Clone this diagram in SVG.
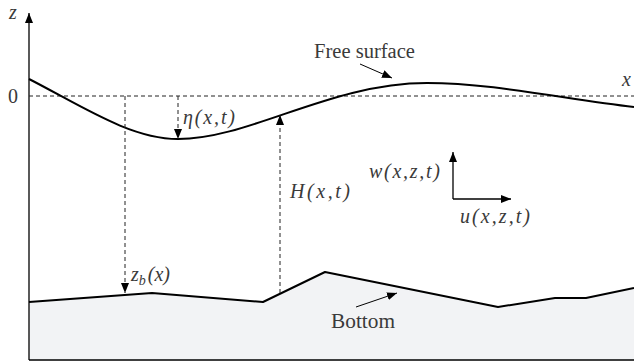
<svg xmlns="http://www.w3.org/2000/svg" width="634" height="362" viewBox="0 0 634 362">
<style>
.t{font-family:"Liberation Serif","DejaVu Serif","Noto Serif",serif;font-size:20px;fill:#3a3a3a}
.m{font-style:italic}
.ax{stroke:#000;stroke-width:1.3;fill:none}
.dash{stroke:#222;stroke-width:1;stroke-dasharray:4 3;fill:none}
.thick{stroke:#000;stroke-width:2;fill:none;stroke-linejoin:round}
.thin{stroke:#000;stroke-width:1;fill:none}
</style>
<defs>
<marker id="ah" viewBox="0 0 10 8" refX="10" refY="4" markerWidth="10" markerHeight="8" markerUnits="userSpaceOnUse" orient="auto">
<path d="M0,0 L10,4 L0,8 Z" fill="#000"/>
</marker>
</defs>
<g id="bottom-fill">
<path d="M29,302 L152,293 L263,302 L325,272 L498,307 L555,298 L586,298 L634,288 L634,360 L29,360 Z" fill="#f2f3f5"/>
</g>
<g id="axes">
<line class="ax" x1="29" y1="360" x2="29" y2="13" marker-end="url(#ah)"/>
<line class="ax" x1="29" y1="360" x2="634" y2="360"/>
<line class="dash" x1="29" y1="96" x2="634" y2="96"/>
<text class="t m" x="9" y="19">z</text>
<text class="t" x="8" y="103">0</text>
<text class="t m" x="622" y="86">x</text>
</g>
<g id="free-surface">
<path class="thick" d="M29,79 C80,105 130,139 178,139 C250,139 330,83 427,83 C490,83 560,98 634,107"/>
<text class="t" x="314" y="58" textLength="101" lengthAdjust="spacingAndGlyphs">Free surface</text>
</g>
<g id="bottom">
<path class="thick" d="M29,302 L152,293 L263,302 L325,272 L498,307 L555,298 L586,298 L634,288"/>
<text class="t" x="331" y="328" textLength="64" lengthAdjust="spacingAndGlyphs">Bottom</text>
</g>
<g id="velocity">
<text class="t m" x="369" y="178" textLength="71" lengthAdjust="spacing">w(x,z,t)</text>
<text class="t m" x="460" y="223" textLength="70" lengthAdjust="spacing">u(x,z,t)</text>
</g>
<g id="connectors">
<line class="thin" x1="360" y1="64" x2="392" y2="78" marker-end="url(#ah)"/>
<line class="thin" x1="356" y1="307" x2="397" y2="293" marker-end="url(#ah)"/>
<line class="dash" x1="178" y1="96" x2="178" y2="139" marker-end="url(#ah)"/>
<line class="dash" x1="125" y1="96" x2="125" y2="293" marker-end="url(#ah)"/>
<line class="dash" x1="280" y1="293" x2="280" y2="115" marker-end="url(#ah)"/>
<line class="ax" x1="453" y1="199" x2="453" y2="152" marker-end="url(#ah)"/>
<line class="ax" x1="453" y1="199" x2="511" y2="199" marker-end="url(#ah)"/>
</g>
<g id="labels">
<text class="t m" x="183" y="124" textLength="52" lengthAdjust="spacing">η(x,t)</text>
<text class="t m" x="290" y="198" textLength="60" lengthAdjust="spacing">H(x,t)</text>
<text class="t m" x="131" y="281">z<tspan font-size="14" dy="4">b</tspan><tspan dy="-4" dx="2">(x)</tspan></text>
</g>
</svg>
